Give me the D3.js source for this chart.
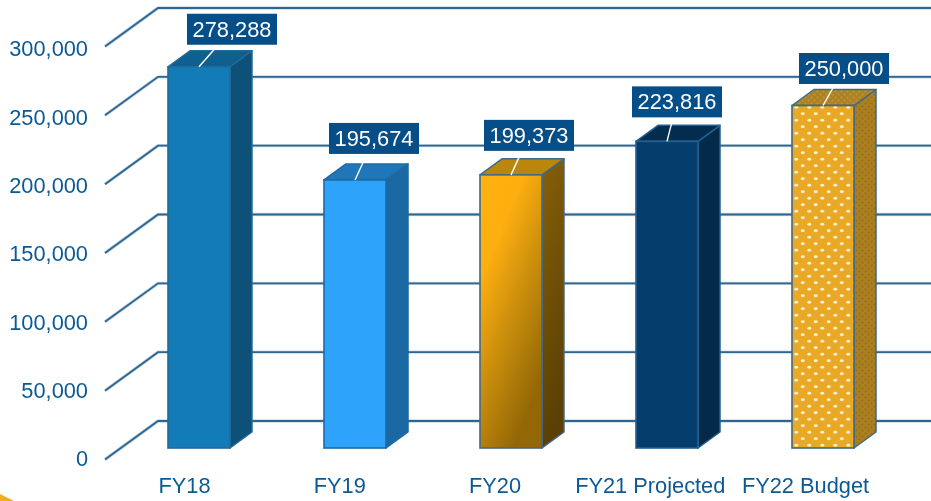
<!DOCTYPE html>
<html><head><meta charset="utf-8">
<script src="https://cdn.jsdelivr.net/npm/d3@7"></script>
<style>html,body{margin:0;padding:0;background:#fff;overflow:hidden}svg{display:block}text{font-family:"Liberation Sans",Arial,sans-serif}</style>
</head><body><div id="c"></div>
<script>
const categories = ["FY18","FY19","FY20","FY21 Projected","FY22 Budget"];
const values = [278288,195674,199373,223816,250000];
const tickValues = [0,50000,100000,150000,200000,250000,300000];

const W=931,H=501,dx=22,dy=-16;
const svg=d3.select("#c").append("svg").attr("width",W).attr("height",H);
const defs=svg.append("defs");
defs.append("filter").attr("id","soft").attr("filterUnits","userSpaceOnUse")
 .attr("x",0).attr("y",0).attr("width",W).attr("height",H)
 .attr("color-interpolation-filters","sRGB")
 .append("feGaussianBlur").attr("stdDeviation",0.4);
function grad(id,stops,x2,y2){const g=defs.append("linearGradient").attr("id",id).attr("x1",0).attr("y1",0).attr("x2",x2).attr("y2",y2);
  stops.forEach(s=>g.append("stop").attr("offset",s[0]).attr("stop-color",s[1]));}
grad("f20",[[0,"#ffb210"],[.3,"#fdae10"],[.62,"#c98e0c"],[1,"#936706"]],.55,1);
grad("f20s",[[0,"#86600a"],[1,"#5a4004"]],.2,1);
function dots(id,bg,dot,sz,rx,ry){const p=defs.append("pattern").attr("id",id).attr("patternUnits","userSpaceOnUse").attr("width",sz).attr("height",sz);
  p.append("rect").attr("width",sz).attr("height",sz).attr("fill",bg);
  [[sz/4,sz/4],[sz*3/4,sz*3/4]].forEach(c=>p.append("ellipse").attr("cx",c[0]).attr("cy",c[1]).attr("rx",rx).attr("ry",ry).attr("fill",dot));}
dots("f22","#e9a926","#fdefc8",13,2,1.4);
dots("f22t","#ad8124","#bf9638",6,1.1,.9);
dots("f22s","#ab7f20","#93701a",6,1.1,1.1);

const fills=[
 {front:"#127cb6",top:"#0f5f8f",side:"#0d5178",stroke:"#23699b"},
 {front:"#2ea3fc",top:"#1f76b8",side:"#1b69a3",stroke:"#1f6aa3"},
 {front:"url(#f20)",top:"#bb860d",side:"url(#f20s)",stroke:"#41698a"},
 {front:"#053d6c",top:"#032c4f",side:"#032a48",stroke:"#235f90"},
 {front:"url(#f22)",top:"url(#f22t)",side:"url(#f22s)",stroke:"#3f6a85"}];

const x=d3.scaleBand().domain(categories).range([168,854]).paddingInner(94/156).paddingOuter(0);
const y=d3.scaleLinear().domain([0,300000]).range([448,37]);
const wall=d3.scaleLinear().domain([0,300000]).range([421,8]);
const yLab=d3.scaleLinear().domain([0,300000]).range([459,49]);
const xLab=d3.scalePoint().domain(categories).range([184,805]);

const root=svg.append("g").attr("filter","url(#soft)");

// corner accent
root.append("path").attr("d","M0,494L14,501L0,501Z").attr("fill","#f2ad1f");

// gridlines
const gl=root.append("g").attr("fill","none");
[["#c9d9e6",3.4],["#2f6690",1.9]].forEach(([c,w])=>{
 gl.append("g").selectAll("path").data(tickValues).join("path")
  .attr("d",d=>`M105,${wall(d)+38.5}L158,${wall(d)}L${W},${wall(d)}`)
  .attr("stroke",c).attr("stroke-width",w);
});

// bars
const bars=root.append("g").selectAll("g").data(values).join("g");
const L=(d,i)=>x(categories[i]),R=(d,i)=>x(categories[i])+x.bandwidth();
bars.append("path").attr("d",(d,i)=>{const l=R(d,i),t=y(d);return `M${l},${t}l${dx},${dy}V${448+dy}l${-dx},${-dy}Z`;})
 .attr("fill",(d,i)=>fills[i].side).attr("stroke",(d,i)=>fills[i].stroke).attr("stroke-width",1.5).attr("stroke-linejoin","round");
bars.append("path").attr("d",(d,i)=>{const l=L(d,i),r=R(d,i),t=y(d);return `M${l},${t}l${dx},${dy}H${r+dx}L${r},${t}Z`;})
 .attr("fill",(d,i)=>fills[i].top).attr("stroke",(d,i)=>fills[i].stroke).attr("stroke-width",1.5).attr("stroke-linejoin","round");
bars.append("rect").attr("x",L).attr("y",d=>y(d)).attr("width",x.bandwidth()).attr("height",d=>448-y(d))
 .attr("fill",(d,i)=>fills[i].front).attr("stroke",(d,i)=>fills[i].stroke).attr("stroke-width",1.6);

// data labels: offsets of the callout box centre from the bar's front-top centre
const boxOffset=[[33,-37.5],[19,-41.5],[18,-39.5],[10,-39.5],[21,-37]];
const boxW=90,boxH=31;
const lab=root.append("g").selectAll("g").data(values).join("g");
const cx=(d,i)=>x(categories[i])+x.bandwidth()/2;
lab.append("line").attr("x1",cx).attr("y1",d=>y(d))
 .attr("x2",(d,i)=>cx(d,i)+boxOffset[i][0]).attr("y2",(d,i)=>y(d)+boxOffset[i][1])
 .attr("stroke","#fff").attr("stroke-width",1.4);
lab.append("rect").attr("x",(d,i)=>cx(d,i)+boxOffset[i][0]-boxW/2).attr("y",(d,i)=>y(d)+boxOffset[i][1]-boxH/2)
 .attr("width",boxW).attr("height",boxH).attr("fill","#054e88");
lab.append("text").attr("x",(d,i)=>cx(d,i)+boxOffset[i][0]).attr("y",(d,i)=>y(d)+boxOffset[i][1])
 .attr("text-anchor","middle").attr("dominant-baseline","central").attr("fill","#fff").attr("font-size",21.8)
 .text(d3.format(","));

// axes
const yAxis=root.append("g").attr("transform","translate(88,0)").call(d3.axisLeft(yLab).tickValues(tickValues).tickSize(0).tickPadding(0).tickFormat(d3.format(",")));
yAxis.select(".domain").remove();
yAxis.selectAll("text").attr("fill","#0b5a94").attr("font-size",21.8).style("font-family",'"Liberation Sans",Arial,sans-serif');
const xAxis=root.append("g").attr("transform","translate(0,478)").call(d3.axisBottom(xLab).tickSize(0).tickPadding(0));
xAxis.select(".domain").remove();
xAxis.selectAll("text").attr("fill","#0b5a94").attr("font-size",21.8).style("font-family",'"Liberation Sans",Arial,sans-serif');
</script></body></html>
